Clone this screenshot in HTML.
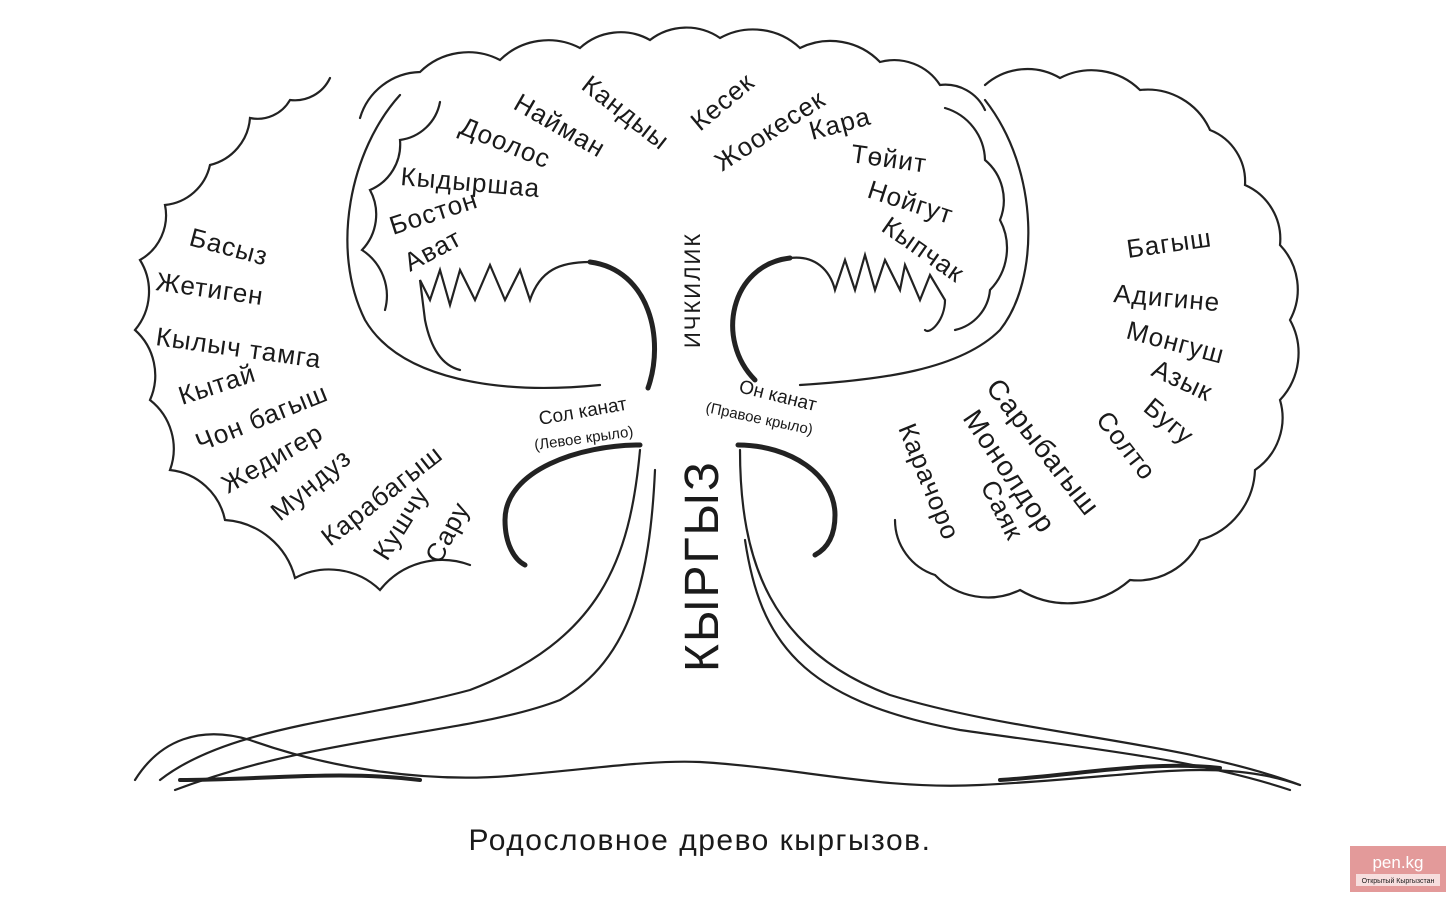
<!DOCTYPE html>
<html><head><meta charset="utf-8">
<style>
html,body{margin:0;padding:0;background:#fff;}
svg{display:block}
text{font-family:"Liberation Sans",sans-serif;fill:#1a1a1a;}
.t{font-size:26px;letter-spacing:1px}
</style></head>
<body>
<svg id="s" width="1456" height="900" viewBox="0 0 1456 900" xmlns="http://www.w3.org/2000/svg">
<g id="lines" fill="none" stroke="#222" stroke-width="2.2" stroke-linecap="round">
  <path d="M400,95 C350,150 330,250 365,320 C400,380 500,395 600,385"/>
  <path d="M985,100 C1040,170 1040,280 1000,330 C960,370 880,380 800,385"/>
  <path d="M590,262 C650,270 665,340 648,388" stroke-width="5"/>
  <path d="M790,258 C730,265 715,340 755,380" stroke-width="5"/>
  <path d="M590,262 C560,262 540,270 530,300 L520,270 L505,300 L490,265 L475,300 L460,270 L450,305 L440,270 L430,300 L420,280 L425,320 C430,345 440,365 460,370"/>
  <path d="M790,258 C815,255 830,270 835,290 L845,260 L855,290 L865,255 L875,290 L885,260 L900,290 L905,265 L920,300 L930,275 L945,300 C945,320 930,335 925,330"/>
  <path d="M640,445 C580,445 505,470 505,520 C505,545 515,560 525,565" stroke-width="5"/>
  <path d="M738,445 C790,445 835,475 835,515 C835,535 828,548 815,555" stroke-width="5"/>
  <path d="M640,450 C630,560 600,640 470,690 C360,720 230,725 160,780"/>
  <path d="M655,470 C650,580 630,660 560,700 C470,735 320,735 175,790"/>
  <path d="M740,450 C740,560 770,650 890,695 C1020,735 1180,740 1300,785"/>
  <path d="M745,540 C760,640 800,700 960,730 C1100,750 1200,760 1290,790"/>
  <path d="M135,780 C160,740 200,725 250,740 C320,765 420,785 520,775 C600,768 650,760 700,762 C800,768 880,790 980,785 C1080,780 1150,770 1200,770 C1250,770 1280,778 1300,785"/>
  <path d="M180,780 C260,780 340,770 420,780" stroke-width="4"/>
  <path d="M1000,780 C1080,775 1150,760 1220,768" stroke-width="4"/>
</g>
<g class="t">
  <text transform="translate(580,88) rotate(38)">Кандыы</text>
  <text transform="translate(512,108) rotate(30)">Найман</text>
  <text transform="translate(458,133) rotate(22)">Доолос</text>
  <text transform="translate(400,185) rotate(5)">Кыдыршаа</text>
  <text transform="translate(393,235) rotate(-18)">Бостон</text>
  <text transform="translate(410,272) rotate(-28)">Ават</text>
  <text transform="translate(700,132) rotate(-40)">Кесек</text>
  <text transform="translate(722,172) rotate(-33)">Жоокесек</text>
  <text transform="translate(812,140) rotate(-15)">Кара</text>
  <text transform="translate(850,162) rotate(8)">Төйит</text>
  <text transform="translate(866,197) rotate(18)">Нойгут</text>
  <text transform="translate(880,230) rotate(35)">Кыпчак</text>
  <text transform="translate(188,245) rotate(15)">Басыз</text>
  <text transform="translate(155,290) rotate(8)">Жетиген</text>
  <text transform="translate(155,345) rotate(8)">Кылыч тамга</text>
  <text transform="translate(182,405) rotate(-18)">Кытай</text>
  <text transform="translate(200,452) rotate(-22)">Чон багыш</text>
  <text transform="translate(228,494) rotate(-30)">Жедигер</text>
  <text transform="translate(280,522) rotate(-40)">Мундуз</text>
  <text transform="translate(330,547) rotate(-38)">Карабагыш</text>
  <text transform="translate(387,562) rotate(-58)">Кушчу</text>
  <text transform="translate(440,565) rotate(-62)">Сару</text>
  <text transform="translate(1128,258) rotate(-8)">Багыш</text>
  <text transform="translate(1113,302) rotate(5)">Адигине</text>
  <text transform="translate(1125,338) rotate(15)">Монгуш</text>
  <text transform="translate(1150,375) rotate(25)">Азык</text>
  <text transform="translate(1142,410) rotate(40)">Бугу</text>
  <text transform="translate(1095,420) rotate(52)">Солто</text>
  <text transform="translate(985,388) rotate(52)" font-size="28">Сарыбагыш</text>
  <text transform="translate(962,418) rotate(56)" font-size="28">Монолдор</text>
  <text transform="translate(980,486) rotate(63)">Саяк</text>
  <text transform="translate(898,428) rotate(68)">Карачоро</text>
</g>
<text transform="translate(700,348) rotate(-90)" font-size="22" letter-spacing="2">ИЧКИЛИК</text>
<text transform="translate(718,672) rotate(-90)" font-size="48" letter-spacing="2">КЫРГЫЗ</text>
<text transform="translate(540,425) rotate(-10)" font-size="19">Сол канат</text>
<text transform="translate(535,450) rotate(-8)" font-size="15">(Левое крыло)</text>
<text transform="translate(738,392) rotate(14)" font-size="19">Он канат</text>
<text transform="translate(705,412) rotate(12)" font-size="15">(Правое крыло)</text>
<text x="700" y="850" text-anchor="middle" font-family="Liberation Serif" font-size="30" letter-spacing="1.5">Родословное древо кыргызов.</text>
<rect x="1350" y="846" width="96" height="46" fill="#e39a9a"/>
<text x="1398" y="868" text-anchor="middle" font-size="17" style="fill:#fff">pen.kg</text>
<rect x="1356" y="874" width="84" height="12" fill="#f7dede"/>
<text x="1398" y="883" text-anchor="middle" font-size="7">Открытый Кыргызстан</text>
</svg>
<script>
function scallop(pts,bulge){
  let d="M"+pts[0][0]+","+pts[0][1];
  for(let i=1;i<pts.length;i++){
    const [x0,y0]=pts[i-1],[x1,y1]=pts[i];
    const L=Math.hypot(x1-x0,y1-y0);
    const r=L*bulge;
    d+=" A"+r.toFixed(1)+","+r.toFixed(1)+" 0 0 1 "+x1+","+y1;
  }
  return d;
}
const paths=[
 [[360,118],[420,72],[500,60],[580,48],[650,40],[720,38],[800,48],[880,62],[940,85],[985,110]],
 [[330,78],[290,100],[250,118],[210,165],[165,205],[140,260],[135,330],[150,400],[170,470],[225,520],[295,578],[380,590],[470,565]],
 [[985,85],[1060,78],[1140,90],[1210,130],[1245,185],[1280,245],[1290,320],[1280,400],[1255,470],[1200,540],[1130,580],[1020,590],[935,575],[895,520]],
 [[440,102],[400,140],[370,190],[362,250],[385,310]],
 [[945,108],[985,160],[1000,220],[990,290],[955,330]]
];
const g=document.getElementById("lines");
for(const p of paths){
  const e=document.createElementNS("http://www.w3.org/2000/svg","path");
  e.setAttribute("d",scallop(p,0.85));
  g.appendChild(e);
}
</script>
</body></html>
